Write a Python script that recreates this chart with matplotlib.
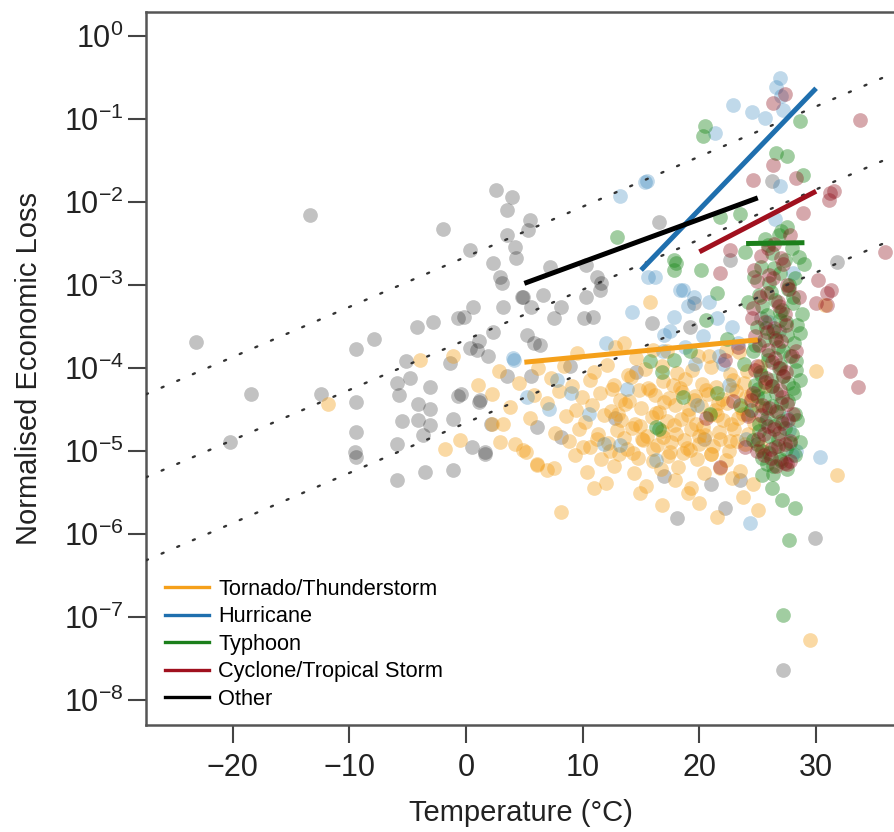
import numpy as np
import matplotlib
matplotlib.use("Agg")
import matplotlib.pyplot as plt
from matplotlib.lines import Line2D

plt.rcParams['font.family'] = ['Liberation Sans', 'DejaVu Sans']
plt.rcParams['mathtext.fontset'] = 'custom'
plt.rcParams['mathtext.rm'] = 'Liberation Sans'
plt.rcParams['mathtext.it'] = 'Liberation Sans:italic'
plt.rcParams['mathtext.bf'] = 'Liberation Sans:bold'

# ---------------- data (temperature in degC, log10 of normalised loss) ----------------
other_T = [-23.1, -18.4, -20.2, -13.4, -12.4, -9.4, -7.9, -9.4, -9.4, -9.5, -9.4, -5.9, -4.8, -3.1,
           -5.7, -0.7, 1.2, 3.5, -4.1, -3.1, -5.5, -4.1, -3.1, -1.1, -3.7, -5.9, -5.9, -3.5, -1.1, 1.6,
           -5.1, -4.2, -2.0, 2.6, 3.9, 3.5, 5.5, 3.5, 4.2, 4.3, 2.3, 0.3, 3.1, 5.3, 4.8, 3.2, 5.6, 0.6,
           -0.7, 2.3, 5.2, 0.9, 5.8, -1.4, 0.3, 1.1, 4.9, 6.6, 8.1, 7.5, 10.3, 11.5, 10.9, 10.1, -0.2,
           6.3, 1.9, 15.9, 19.2, 19.5, -0.4, 1.1, 2.1, 6.1, 8.1, 1.6, 18.1, 5.6, 16.5, 7.2, 10.3, 11.2,
           11.6, 2.9, 22.6, 31.8, 29.9, 22.2, 23.5, 21.0, 27.2, 8.9, -2.8, 0.5, 12.8, 14.6, 24.1, 26.2,
           25.3, 20.4, 17.0, 26.8, 25.6]
other_L = [-3.69, -4.31, -4.89, -2.16, -4.31, -3.77, -3.65, -4.41, -4.77, -5.01, -5.07, -4.18, -4.12, -4.23,
           -4.33, -4.34, -4.39, -4.10, -4.43, -4.49, -4.64, -4.63, -4.69, -4.61, -4.81, -4.91, -5.35, -5.25, -5.23, -5.01,
           -3.92, -3.50, -2.32, -1.86, -1.94, -2.10, -2.22, -2.40, -2.54, -2.68, -2.73, -2.58, -2.97, -2.34, -3.14, -3.26, -3.26, -3.26,
           -3.40, -3.56, -3.60, -3.78, -3.70, -3.94, -3.76, -3.68, -3.14, -3.12, -3.26, -3.40, -3.14, -3.06, -3.38, -3.40, -3.38,
           -3.72, -3.86, -3.46, -3.50, -3.22, -4.31, -4.41, -4.67, -4.71, -4.83, -5.03, -5.81, -4.10, -2.24, -2.78, -2.76, -2.90,
           -2.98, -2.90, -2.70, -2.72, -6.05, -5.69, -5.35, -5.40, -7.64, -3.98, -3.45, -4.95, -4.60, -4.05, -4.55, -1.75,
           -3.40, -4.85, -5.30, -3.55, -4.65]

hurr_T = [26.9, 26.6, 22.9, 24.5, 25.6, 21.3, 15.3, 26.9, 16.2, 18.6, 19.5, 19.0, 15.5, 13.2, 15.6, 18.3,
          14.2, 17.8, 4.0, 5.2, 4.1, 7.1, 11.8, 13.2, 16.3, 30.3, 24.3, 27.2, 27.0, 20.8, 21.5, 22.5, 27.5,
          10.5, 13.8, 27.7, 7.8, 17.0, 24.0, 28.3, 26.0, 22.0, 19.8, 12.0, 9.0, 28.0, 27.9, 26.5,
          17.5, 18.8, 20.3, 21.7, 19.6, 22.8, 16.9, 23.3]
hurr_L = [-0.51, -0.61, -0.83, -0.91, -0.99, -1.17, -1.76, -1.81, -2.90, -3.06, -3.14, -3.25, -1.75, -1.93, -2.90, -3.06,
          -3.32, -3.38, -3.88, -4.35, -3.90, -4.49, -4.91, -4.93, -5.11, -5.07, -5.87, -0.89, -0.72, -3.20, -3.40, -4.20, -4.60,
          -4.55, -4.25, -4.75, -4.14, -3.60, -4.85, -5.00, -3.45, -3.95, -4.45, -3.70, -4.30, -2.85, -5.05, -2.20,
          -3.55, -3.75, -3.62, -3.85, -3.95, -3.50, -3.80, -3.70]

typh_T = [25.6, 26.8, 27.9, 26.2, 27.3, 25.3, 26.9, 28.2, 26.0, 27.6, 25.1, 26.5, 28.0, 27.1, 25.8, 26.9, 28.4,
          24.9, 26.3, 27.5, 25.5, 28.1, 26.7, 24.6, 27.8, 25.9, 26.9, 28.3, 25.2, 27.2, 26.1, 24.8, 28.0, 26.6,
          25.5, 27.6, 26.2, 24.4, 28.2, 25.8, 27.0, 26.4, 25.1, 27.9, 26.7, 24.9, 27.4, 26.0, 25.4, 27.0, 26.3,
          25.0, 23.8, 23.5, 24.2, 23.9, 28.8, 28.6, 29.0,
          27.2, 27.7, 25.4, 26.2, 27.1, 28.2, 28.6, 20.5, 20.3, 28.6, 26.6, 27.5, 28.9, 21.8, 23.5, 27.5, 17.8,
          17.8, 20.1, 21.5, 18.0, 12.9, 15.8, 17.8, 21.5, 16.5, 20.6, 16.8, 19.2, 20.9, 22.4, 18.6, 16.3,
          27.0, 25.9, 28.5, 26.4, 24.7, 27.7, 26.1, 28.0, 25.4, 26.9, 27.4, 25.7, 28.6, 26.5, 24.8, 27.2,
          25.9, 28.3, 26.8, 25.3, 27.6, 26.2, 28.1, 24.9, 27.0, 25.6, 26.7, 28.4, 25.1, 27.3, 26.0, 24.6,
          27.8, 26.5, 25.4, 28.2, 26.9, 25.8, 27.5, 26.3]
typh_L = [-2.45, -2.40, -2.55, -2.62, -2.70, -2.78, -2.85, -2.92, -2.98, -3.05, -3.12, -3.18, -3.22, -3.30, -3.36, -3.42, -3.48,
          -3.50, -3.55, -3.60, -3.66, -3.70, -3.75, -3.80, -3.86, -3.90, -3.96, -4.02, -4.05, -4.10, -4.15, -4.20, -4.24, -4.30,
          -4.36, -4.40, -4.46, -4.50, -4.55, -4.60, -4.64, -4.70, -4.76, -4.80, -4.86, -4.92, -4.97, -5.02, -5.08, -5.12, -5.18,
          -4.25, -3.95, -4.45, -3.20, -2.60, -3.35, -4.15, -2.75,
          -6.98, -6.07, -5.29, -5.45, -5.59, -5.69, -4.89, -1.09, -1.21, -1.03, -1.41, -1.45, -1.67, -2.18, -2.14, -2.30, -2.70,
          -2.82, -2.82, -3.10, -2.74, -2.42, -3.92, -3.90, -4.30, -4.73, -3.42, -4.05, -3.80, -4.55, -3.65, -4.35, -4.71,
          -2.35, -2.52, -2.66, -2.80, -2.90, -3.00, -3.08, -3.15, -3.25, -3.33, -3.45, -3.52, -3.58, -3.64, -3.72, -3.80,
          -3.84, -3.92, -4.00, -4.08, -4.18, -4.22, -4.30, -4.34, -4.42, -4.48, -4.53, -4.62, -4.67, -4.72, -4.82, -4.87,
          -4.90, -4.95, -5.00, -5.05, -5.10, -5.15, -5.22, -5.28]

cycl_T = [26.4, 25.3, 27.2, 26.0, 24.9, 27.5, 25.8, 26.7, 24.6, 27.3, 25.6, 26.4, 24.8, 27.0, 25.9, 26.5, 24.9,
          27.4, 25.7, 26.2, 24.6, 27.1, 25.4, 26.6, 24.2, 27.6, 25.9, 26.8, 25.0, 27.3, 26.1, 25.5, 27.8, 26.6,
          23.3, 22.9, 23.9, 28.3, 28.0, 26.9, 27.8, 28.5,
          26.3, 33.8, 26.3, 28.3, 24.6, 31.2, 31.1, 28.9, 22.6, 21.8, 35.9, 30.2, 31.3, 30.9, 32.9, 33.6, 27.5,
          21.8, 30.9, 30.0, 31.5, 27.3, 20.6, 22.2,
          25.9, 27.0, 24.7, 26.3, 27.7, 25.2, 26.8, 24.5, 27.4, 25.8, 26.6, 25.1, 27.9, 26.2, 24.8,
          27.2, 25.6, 26.9, 24.4, 27.5, 26.0, 25.3, 27.1, 26.4, 25.5, 27.8, 26.7, 24.9, 26.1, 27.3]
cycl_L = [-2.50, -2.65, -2.75, -2.88, -2.95, -3.00, -3.10, -3.20, -3.28, -3.35, -3.45, -3.52, -3.62, -3.68, -3.78, -3.88, -3.98,
          -4.05, -4.12, -4.22, -4.30, -4.35, -4.45, -4.52, -4.58, -4.62, -4.70, -4.78, -4.85, -4.92, -4.98, -5.05, -5.12, -5.18,
          -3.75, -4.40, -4.95, -3.80, -4.55, -4.00, -2.40, -3.15,
          -0.81, -1.01, -1.55, -1.71, -1.73, -1.89, -1.97, -2.13, -2.58, -2.86, -2.60, -2.94, -3.06, -3.24, -4.04, -4.23, -5.15,
          -5.19, -3.10, -3.22, -1.87, -0.70, -4.60, -3.90,
          -2.55, -2.68, -2.82, -2.92, -3.05, -3.15, -3.25, -3.40, -3.48, -3.57, -3.66, -3.72, -3.85, -3.93, -4.02,
          -4.10, -4.17, -4.26, -4.38, -4.43, -4.48, -4.57, -4.66, -4.74, -4.80, -4.88, -4.94, -5.00, -5.08, -5.14]

torn_T = [-11.8, -1.1, -3.9, 2.2, 2.8, -0.5, -1.8, 2.2, 3.2, 2.9, 4.9, 6.1, 6.9, 6.1, 5.1, 8.1, 14.9, 15.8, 30.8,
          31.8, 30.0, 29.5, 21.5, 25.0, 19.0, 20.0, 16.8, 23.7, 11.0, 1.0,
          9.5, 12.8, 14.6, 17.2, 19.9, 22.3, 13.5, 16.0, 20.8, 23.4,
          6.2, 8.4, 11.0, 12.1, 13.9, 15.3, 16.8, 18.1, 19.4, 21.0, 22.6, 24.1, 25.2,
          4.5, 7.3, 9.1, 10.6, 12.7, 14.1, 15.6, 16.9, 17.7, 18.8, 20.2, 21.4, 22.9, 23.8, 25.6,
          5.8, 8.0, 9.9, 11.5, 13.2, 14.8, 16.2, 17.4, 18.5, 19.6, 20.7, 21.9, 23.1, 24.4,
          3.8, 6.9, 9.4, 10.8, 12.4, 13.6, 15.0, 16.5, 17.9, 19.1, 20.1, 21.3, 22.4, 23.6, 25.0,
          5.5, 8.6, 10.2, 11.8, 13.3, 14.5, 15.9, 17.2, 18.4, 19.7, 20.9, 22.0, 23.3, 24.7,
          7.6, 9.7, 11.3, 12.9, 14.2, 15.5, 16.8, 18.0, 19.3, 20.5, 21.7, 23.0, 24.2,
          4.2, 8.8, 10.6, 12.2, 13.8, 15.2, 16.4, 17.6, 18.9, 20.0, 21.2, 22.6, 23.9, 25.3,
          9.3, 11.6, 13.1, 14.7, 16.0, 17.3, 18.6, 19.8, 21.0, 22.3,
          7.5, 10.4, 12.7, 14.4, 16.7, 18.2, 20.4, 21.8, 23.5,
          12.0, 15.4, 17.9, 19.3, 22.8, 24.6,
          12.5, 14.0, 15.8, 17.0, 18.3, 19.5, 20.6, 21.6, 22.8, 13.0, 14.9, 16.3, 17.8, 19.0, 20.3, 21.5,
          22.7, 23.7, 11.2, 13.5, 15.1, 16.9, 18.7, 20.0, 21.8, 23.2, 10.0, 12.3, 14.3, 16.0, 17.5, 19.2,
          21.0, 22.5, 24.0]
torn_L = [-4.43, -3.86, -3.90, -4.31, -4.04, -4.87, -4.97, -4.67, -4.67, -4.89, -4.99, -5.15, -5.23, -5.17, -5.01, -5.73, -5.51, -3.20, -3.24,
          -5.29, -4.04, -7.28, -5.79, -5.71, -5.51, -5.62, -5.65, -5.55, -5.45, -4.20,
          -3.82, -3.75, -3.88, -3.79, -3.86, -3.80, -3.70, -3.78, -3.85, -3.81,
          -4.00, -3.97, -4.05, -3.96, -4.08, -4.01, -3.98, -4.06, -4.02, -3.99, -4.07, -4.03, -3.97,
          -4.18, -4.12, -4.22, -4.15, -4.20, -4.11, -4.24, -4.16, -4.21, -4.13, -4.19, -4.23, -4.14, -4.18, -4.22,
          -4.32, -4.28, -4.35, -4.30, -4.38, -4.27, -4.33, -4.36, -4.29, -4.34, -4.31, -4.37, -4.28, -4.33,
          -4.47, -4.42, -4.50, -4.45, -4.52, -4.43, -4.48, -4.53, -4.44, -4.49, -4.46, -4.51, -4.42, -4.48, -4.45,
          -4.60, -4.58, -4.65, -4.57, -4.62, -4.68, -4.59, -4.64, -4.61, -4.67, -4.56, -4.63, -4.60, -4.66,
          -4.78, -4.73, -4.80, -4.75, -4.72, -4.82, -4.76, -4.79, -4.74, -4.81, -4.77, -4.73, -4.80,
          -4.92, -4.88, -4.95, -4.90, -4.97, -4.87, -4.93, -4.89, -4.96, -4.91, -4.94, -4.88, -4.92, -4.95,
          -5.05, -5.10, -5.03, -5.08, -5.12, -5.06, -5.02, -5.09, -5.04, -5.11,
          -5.20, -5.25, -5.18, -5.27, -5.22, -5.19, -5.26, -5.21, -5.24,
          -5.38, -5.42, -5.35, -5.45, -5.33, -5.40,
          -4.25, -4.40, -4.26, -4.41, -4.24, -4.39, -4.27, -4.42, -4.25, -4.55, -4.70, -4.54, -4.69, -4.57, -4.71, -4.56,
          -4.68, -4.55, -4.85, -4.84, -4.86, -4.83, -4.87, -4.82, -4.85, -4.88, -4.95, -5.00, -5.02, -4.98, -5.01, -4.99,
          -5.03, -5.00, -4.35]

# regression lines: temperature range and log10 loss at the ends
fit_names = ['Tornado/Thunderstorm', 'Hurricane', 'Typhoon', 'Cyclone/Tropical Storm', 'Other']
fit_T0 = [5.0, 15.0, 24.0, 20.0, 5.0]
fit_T1 = [25.0, 30.0, 29.0, 30.0, 25.0]
fit_L0 = [-3.93, -2.82, -2.50, -2.60, -2.98]
fit_L1 = [-3.66, -0.63, -2.49, -1.87, -1.95]

# reference scaling lines (dotted): log10 loss = intercept + slope * T
ref_slope = 0.0604
ref_intercepts = [-2.66, -3.66, -4.66]

ytick_exp = [0, -1, -2, -3, -4, -5, -6, -7, -8]
xticks = [-20, -10, 0, 10, 20, 30]

# ---------------- styling ----------------
line_colors = ['#F5A01A', '#1F6FAE', '#1B7F1B', '#A0101E', '#000000']
pt_colors = ['#F39C12', '#1F77B4', '#1F8A1F', '#8E0E1A', '#000000']

W, H = 895, 832
fig = plt.figure(figsize=(W / 100, H / 100), dpi=100)
ax = fig.add_axes([146 / W, (H - 725) / H, (W - 146) / W, (725 - 12) / H])

xmin, xmax = -27.42, 36.76
ymin, ymax = 10 ** -8.30, 10 ** 0.289

ax.set_yscale('log')
ax.set_xlim(xmin, xmax)
ax.set_ylim(ymin, ymax)

S = 112
series = [(other_T, other_L, pt_colors[4], 0.24),
          (torn_T, torn_L, pt_colors[0], 0.38),
          (hurr_T, hurr_L, pt_colors[1], 0.28),
          (typh_T, typh_L, pt_colors[2], 0.42),
          (cycl_T, cycl_L, pt_colors[3], 0.36)]
for T, L, c, a in series:
    ax.scatter(T, 10.0 ** np.asarray(L), s=S, color=c, alpha=a, linewidths=0, zorder=2)

# dotted reference lines
tt = np.array([xmin, xmax])
for b in ref_intercepts:
    ax.plot(tt, 10.0 ** (b + ref_slope * tt), linestyle=(0, (0.9, 6.3)), lw=1.7,
            color='#333333', dash_capstyle='round', zorder=3)

# fitted lines
for i in range(len(fit_names)):
    ax.plot([fit_T0[i], fit_T1[i]], [10 ** fit_L0[i], 10 ** fit_L1[i]],
            color=line_colors[i], lw=3.6, solid_capstyle='butt', zorder=4)

# axes styling
for side in ['left', 'bottom', 'top']:
    ax.spines[side].set_color('#555555')
    ax.spines[side].set_linewidth(1.8)
ax.spines['right'].set_visible(False)

ax.set_yticks([10.0 ** e for e in ytick_exp])
ax.set_yticklabels([r'$\mathdefault{10^{%d}}$' % e for e in ytick_exp])
ax.yaxis.set_minor_locator(matplotlib.ticker.NullLocator())
ax.set_xticks(xticks)
ax.set_xticklabels([('\u2212%d' % -v) if v < 0 else '%d' % v for v in xticks])

ax.tick_params(axis='both', which='major', direction='out', length=13, width=1.5,
               color='#444444', labelsize=22, labelcolor='#222222')
ax.tick_params(axis='y', pad=3)
ax.tick_params(axis='x', pad=7)

ax.set_xlabel('Temperature (\u00b0C)', fontsize=21, color='#222222', labelpad=12)
ax.set_ylabel('Normalised Economic Loss', fontsize=21, color='#222222', labelpad=15)

handles = [Line2D([0], [0], color=line_colors[i], lw=2.4) for i in range(len(fit_names))]
ax.legend(handles, fit_names, loc='lower left', bbox_to_anchor=(0.0254, 0.021),
          frameon=False, fontsize=15.7, handlelength=2.0, handletextpad=0.45,
          labelspacing=0.3, borderpad=0, borderaxespad=0)

fig.savefig('out.png', dpi=100)
